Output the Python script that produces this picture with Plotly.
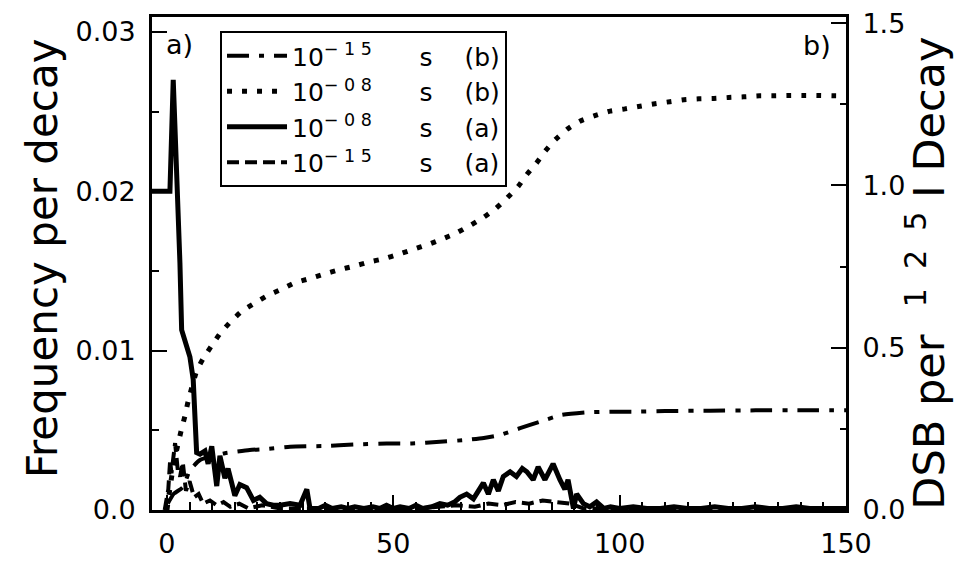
import plotly.graph_objects as go

# ---------------- data ----------------
# 10^-08 s (a): frequency per decay (left axis), solid
sol_x = [
    -3.3, 0.66, 1.39, 2.5, 2.87, 3.25, 4.2, 5.08, 5.8, 6.19,
    6.56, 7.3, 8.4, 9.1, 9.9, 11.0, 11.7, 12.8, 13.5, 14.3,
    15.0, 16.1, 17.6, 19.1, 20.5, 22.0, 23.5, 25.0, 27.2, 29.4,
    30.9, 31.6, 33.5, 35.0, 36.5, 38.5, 40.0, 41.5, 43.5, 45.5,
    47.0, 48.5, 50.0, 51.5, 53.5, 55.0, 56.5, 58.5, 60.3, 62.0,
    63.5, 64.7, 66.2, 67.7, 69.9, 71.0, 72.1, 73.2, 74.3, 75.8,
    77.2, 78.5, 79.5, 80.9, 82.0, 83.5, 85.3, 86.8, 87.9, 88.6,
    89.8, 90.5, 92.0, 93.4, 94.9, 96.5, 98.0, 100.0, 103.0, 106.0,
    109.0, 112.0, 115.0, 118.0, 121.0, 124.0, 127.0, 130.0, 133.0, 136.0,
    139.0, 142.0, 145.0, 148.0, 150.0]
sol_y = [
    0.0200, 0.0200, 0.0270, 0.0197, 0.0155, 0.0113, 0.0105, 0.0096, 0.0082, 0.0050,
    0.0036, 0.0035, 0.0037, 0.0029, 0.0040, 0.0015, 0.0034, 0.0020, 0.0026, 0.0017,
    0.0009, 0.0016, 0.0014, 0.0006, 0.0008, 0.0004, 0.0003, 0.0003, 0.0004, 0.0003,
    0.0013, 0.0001, 0.0001, 0.0003, 0.0001, 0.0002, 0.0001, 0.0002, 0.0001, 0.0002,
    0.0001, 0.0003, 0.0001, 0.0002, 0.0001, 0.0003, 0.0001, 0.0002, 0.0004, 0.0003,
    0.0005, 0.0008, 0.0010, 0.0007, 0.0017, 0.0010, 0.0019, 0.0012, 0.0021, 0.0024,
    0.0021, 0.0026, 0.0024, 0.0019, 0.0027, 0.0019, 0.0029, 0.0019, 0.0013, 0.0019,
    0.0001, 0.0010, 0.0004, 0.0002, 0.0005, 0.0001, 0.0002, 0.0001, 0.0002, 0.0001,
    0.0001, 0.0002, 0.0001, 0.0001, 0.0002, 0.0001, 0.0001, 0.0002, 0.0001, 0.0001,
    0.0002, 0.0001, 0.0001, 0.0001, 0.0001]

# 10^-15 s (a): frequency per decay (left axis), dashed
dsh_x = [
    -0.5, 0.3, 0.7, 1.0, 1.8, 2.4, 2.9, 3.5, 4.2, 5.0,
    6.0, 7.0, 8.0, 9.5, 11.0, 12.5, 14.0, 16.0, 18.0, 21.0,
    25.0, 30.0, 35.0, 40.0, 45.0, 50.0, 55.0, 60.0, 64.0, 68.0,
    71.0, 74.0, 77.0, 80.0, 83.0, 86.0, 89.0, 92.0, 96.0, 100.0,
    110.0, 120.0, 130.0, 140.0, 150.0]
dsh_y = [
    0.0, 0.0013, 0.0031, 0.0023, 0.0042, 0.0025, 0.0021, 0.0030, 0.0012, 0.0018,
    0.0008, 0.0010, 0.0004, 0.0006, 0.0003, 0.0005, 0.0002, 0.0004, 0.0001, 0.0003,
    0.0001, 0.0001, 0.0001, 0.0001, 0.0001, 0.0001, 0.0001, 0.0002, 0.0003, 0.0002,
    0.0004, 0.0003, 0.0005, 0.0004, 0.0006, 0.0005, 0.0004, 0.0001, 0.0001, 0.0001,
    0.0001, 0.0001, 0.0001, 0.0001, 0.0001]

# 10^-08 s (b): DSB per decay (right axis), dotted
dot_x = [
    0.0, 0.8, 1.6, 2.4, 3.25, 3.98, 4.70, 6.56, 8.02, 9.87,
    11.86, 14.07, 16.50, 19.37, 22.16, 25.25, 28.21, 31.52, 34.75, 37.99,
    41.24, 44.62, 47.87, 51.18, 54.41, 57.65, 60.81, 63.99, 67.00, 69.96,
    72.61, 75.11, 77.54, 79.46, 81.58, 83.57, 85.78, 88.4, 91.2, 94.5,
    97.9, 101.2, 104.5, 107.8, 111.1, 114.2, 117.5, 120.8, 124.1, 127.4,
    130.9, 134.2, 137.6, 140.9, 144.2, 147.7, 150.0]
dot_y = [
    0.0, 0.08, 0.15, 0.20, 0.251, 0.290, 0.336, 0.428, 0.467, 0.506,
    0.546, 0.580, 0.612, 0.637, 0.660, 0.680, 0.700, 0.713, 0.727, 0.740,
    0.751, 0.764, 0.774, 0.788, 0.803, 0.818, 0.835, 0.854, 0.877, 0.902,
    0.929, 0.961, 0.996, 1.033, 1.068, 1.106, 1.141, 1.173, 1.198, 1.215,
    1.229, 1.236, 1.244, 1.252, 1.258, 1.264, 1.267, 1.268, 1.271, 1.273,
    1.276, 1.276, 1.277, 1.277, 1.277, 1.276, 1.276]

# 10^-15 s (b): DSB per decay (right axis), dash-dot
dd_x = [
    0.2, 1.5, 3.5, 5.1, 7.3, 9.9, 12.8, 18.3, 22.0, 27.2,
    34.2, 41.9, 48.5, 54.1, 60.3, 66.2, 70.0, 73.6, 78.0, 82.4,
    87.2, 92.7, 97.9, 103.0, 110.0, 120.0, 130.0, 140.0, 150.0]
dd_y = [
    0.02, 0.05, 0.07, 0.123, 0.154, 0.166, 0.175, 0.185, 0.188, 0.195,
    0.197, 0.202, 0.205, 0.205, 0.210, 0.216, 0.222, 0.231, 0.252, 0.272,
    0.293, 0.301, 0.303, 0.303, 0.305, 0.306, 0.307, 0.307, 0.307]

x_ticks = [0, 50, 100, 150]
x_ticktext = ["0", "50", "100", "150"]
yl_ticks = [0.0, 0.01, 0.02, 0.03]
yl_ticktext = ["0.0", "0.01", "0.02", "0.03"]
yr_ticks = [0.0, 0.5, 1.0, 1.5]
yr_ticktext = ["0.0", "0.5", "1.0", "1.5"]

NB = "\u00a0"
names = [
    "10<sup>−" + NB + "1" + NB + "5</sup>" + NB * 6 + "s" + NB * 4 + "(b)",
    "10<sup>−" + NB + "0" + NB + "8</sup>" + NB * 6 + "s" + NB * 4 + "(b)",
    "10<sup>−" + NB + "0" + NB + "8</sup>" + NB * 6 + "s" + NB * 4 + "(a)",
    "10<sup>−" + NB + "1" + NB + "5</sup>" + NB * 6 + "s" + NB * 4 + "(a)",
]

FONT = "DejaVu Sans"
BLACK = "#000000"

fig = go.Figure()
fig.add_trace(go.Scatter(x=dd_x, y=dd_y, yaxis="y2", mode="lines", name=names[0],
                         line=dict(color=BLACK, width=4, dash="22px,10px,5px,10px",
                                   shape="spline", smoothing=0.5)))
fig.add_trace(go.Scatter(x=dot_x, y=dot_y, yaxis="y2", mode="lines", name=names[1],
                         line=dict(color=BLACK, width=5, dash="5px,10px",
                                   shape="spline", smoothing=0.5)))
fig.add_trace(go.Scatter(x=sol_x, y=sol_y, mode="lines", name=names[2],
                         line=dict(color=BLACK, width=5)))
fig.add_trace(go.Scatter(x=dsh_x, y=dsh_y, mode="lines", name=names[3],
                         line=dict(color=BLACK, width=4, dash="12px,6px")))

tickfont = dict(family=FONT, size=27, color=BLACK)

fig.update_layout(
    width=976, height=561,
    margin=dict(l=152, r=130, t=17, b=51, pad=0),
    paper_bgcolor="white", plot_bgcolor="white",
    font=dict(family=FONT, color=BLACK),
    xaxis=dict(
        range=[-3.3, 150], tickvals=x_ticks, ticktext=x_ticktext, automargin=False,
        showgrid=False, zeroline=False, showline=True, linecolor=BLACK, linewidth=3,
        mirror=True, ticks="inside", ticklen=15, tickwidth=2, tickcolor=BLACK,
        minor=dict(ticks="inside", dtick=5, tick0=0, ticklen=8, tickwidth=2, tickcolor=BLACK),
        tickfont=tickfont, ticklabelstandoff=8,
    ),
    yaxis=dict(
        range=[0, 0.03094], tickvals=yl_ticks, ticktext=yl_ticktext, automargin=False,
        showgrid=False, zeroline=False, showline=True, linecolor=BLACK, linewidth=3,
        ticks="inside", ticklen=15, tickwidth=2, tickcolor=BLACK,
        minor=dict(ticks="inside", dtick=0.005, tick0=0, ticklen=7, tickwidth=2, tickcolor=BLACK),
        tickfont=tickfont, ticklabelstandoff=8,
    ),
    yaxis2=dict(
        range=[0, 1.519], tickvals=yr_ticks, ticktext=yr_ticktext, automargin=False,
        overlaying="y", side="right",
        showgrid=False, zeroline=False, showline=True, linecolor=BLACK, linewidth=3,
        ticks="inside", ticklen=15, tickwidth=2, tickcolor=BLACK,
        minor=dict(ticks="inside", dtick=0.25, tick0=0, ticklen=6, tickwidth=2, tickcolor=BLACK),
        tickfont=tickfont, ticklabelstandoff=8,
    ),
    showlegend=True,
    legend=dict(
        x=0.098, y=0.9716, xanchor="left", yanchor="top",
        bgcolor="white", bordercolor=BLACK, borderwidth=2,
        font=dict(family=FONT, size=25, color=BLACK),
        itemwidth=60, tracegroupgap=0,
    ),
    annotations=[
        dict(text="Frequency per decay", xref="paper", yref="paper",
             x=-0.1585, y=0.511, xanchor="center", yanchor="middle",
             textangle=-90, showarrow=False,
             font=dict(family=FONT, size=42, color=BLACK)),
        dict(text="DSB per" + NB * 2 + "<sup>1" + NB * 2 + "2" + NB * 2 + "5</sup>" + NB + "I Decay",
             xref="paper", yref="paper",
             x=1.115, y=0.481, xanchor="center", yanchor="middle",
             textangle=-90, showarrow=False,
             font=dict(family=FONT, size=43, color=BLACK)),
        dict(text="a)", xref="paper", yref="paper", x=0.0403, y=0.945,
             xanchor="center", yanchor="middle", showarrow=False,
             font=dict(family=FONT, size=27, color=BLACK)),
        dict(text="b)", xref="paper", yref="paper", x=0.958, y=0.943,
             xanchor="center", yanchor="middle", showarrow=False,
             font=dict(family=FONT, size=27, color=BLACK)),
    ],
)

fig.write_html("out.html")
